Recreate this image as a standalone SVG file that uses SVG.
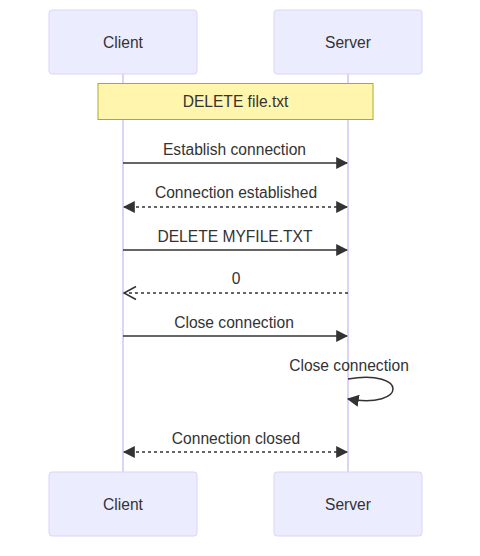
<svg xmlns="http://www.w3.org/2000/svg" width="480" height="556" viewBox="0 0 480 556">
<defs>
<style>
.actor{fill:#ECECFF;stroke:#DCD4F7;stroke-width:1}
.lbl{font-family:"Liberation Sans",Arial,sans-serif;font-size:15.6px;fill:#333;text-anchor:middle;dominant-baseline:central}
.life{stroke:#DCD4F7;stroke-width:2}
.msg{stroke:#333;stroke-width:1.5;fill:none}
.dot{stroke-dasharray:3,3}
.note{fill:#FFF5AD;stroke:#AAAA33;stroke-width:1}
</style>
<marker id="ah" viewBox="0 0 10 10" refX="9" refY="5" markerUnits="userSpaceOnUse" markerWidth="12" markerHeight="12" orient="auto">
<path d="M0,0 L10,5 L0,10 z" fill="#333"/>
</marker>
<marker id="ahs" viewBox="0 0 10 10" refX="1" refY="5" markerUnits="userSpaceOnUse" markerWidth="12" markerHeight="12" orient="auto">
<path d="M10,0 L0,5 L10,10 z" fill="#333"/>
</marker>
</defs>
<rect width="480" height="556" fill="#fff"/>
<g id="lifelines">
<line class="life" x1="123" y1="74" x2="123" y2="472"/>
<line class="life" x1="348" y1="74" x2="348" y2="472"/>
</g>
<g id="client-top"><rect class="actor" x="49" y="10" width="148" height="64" rx="3"/><text class="lbl" x="123" y="42">Client</text></g>
<g id="server-top"><rect class="actor" x="274" y="10" width="148" height="64" rx="3"/><text class="lbl" x="348" y="42">Server</text></g>
<g id="note"><rect class="note" x="98" y="83.5" width="275" height="36"/><text class="lbl" x="235.5" y="101.5">DELETE file.txt</text></g>
<g id="connectors">
<line class="msg" x1="123" y1="163" x2="347" y2="163" marker-end="url(#ah)"/>
<text class="lbl" x="234.5" y="149">Establish connection</text>
<line class="msg dot" x1="124" y1="207" x2="347" y2="207" marker-start="url(#ahs)" marker-end="url(#ah)"/>
<text class="lbl" x="236" y="192">Connection established</text>
<line class="msg" x1="123" y1="250" x2="347" y2="250" marker-end="url(#ah)"/>
<text class="lbl" x="235" y="236">DELETE MYFILE.TXT</text>
<line class="msg dot" x1="348" y1="293" x2="124" y2="293"/>
<path class="msg" d="M136,286.5 L124,293 L136,299.5" stroke-width="2"/>
<text class="lbl" x="236" y="278">0</text>
<line class="msg" x1="123" y1="336" x2="347" y2="336" marker-end="url(#ah)"/>
<text class="lbl" x="234" y="322">Close connection</text>
<path class="msg" d="M348,379 C408,369 408,409 348,399" marker-end="url(#ah)"/>
<text class="lbl" x="349" y="365">Close connection</text>
<line class="msg dot" x1="124" y1="452" x2="347" y2="452" marker-start="url(#ahs)" marker-end="url(#ah)"/>
<text class="lbl" x="236" y="438">Connection closed</text>
</g>
<g id="client-bottom"><rect class="actor" x="49" y="472" width="148" height="64" rx="3"/><text class="lbl" x="123" y="504">Client</text></g>
<g id="server-bottom"><rect class="actor" x="274" y="472" width="148" height="64" rx="3"/><text class="lbl" x="348" y="504">Server</text></g>
</svg>
